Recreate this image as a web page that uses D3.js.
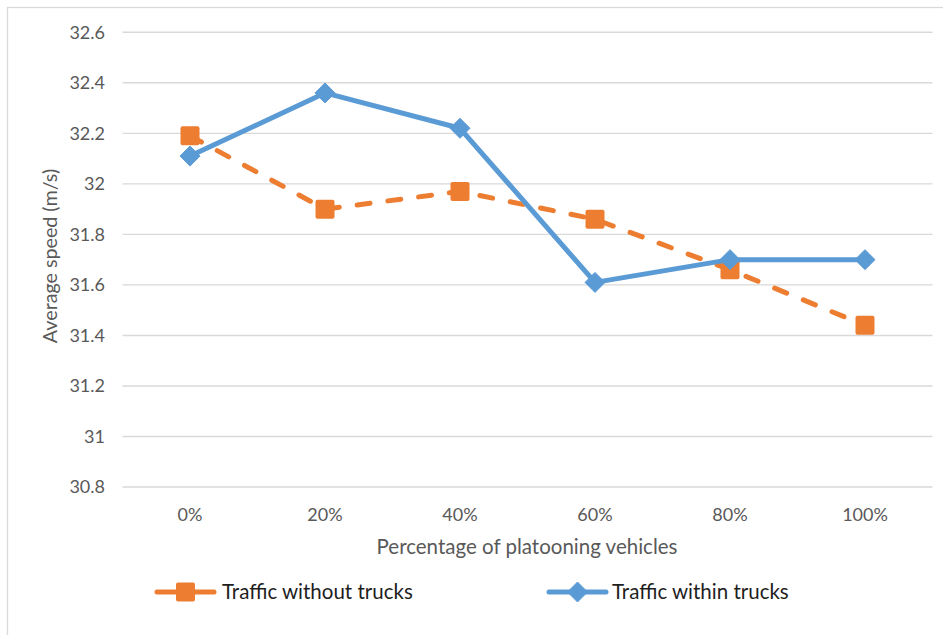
<!DOCTYPE html>
<html>
<head>
<meta charset="utf-8">
<script src="https://cdn.jsdelivr.net/npm/d3@7"></script>
<style>
  body { margin: 0; background: #fff; }
  text { font-family: Lato, "Open Sans", sans-serif; }
</style>
</head>
<body>
<div id="chart"></div>
<script>
// chart data
const categories = ["0%", "20%", "40%", "60%", "80%", "100%"];
const withoutTrucks = [32.19, 31.90, 31.97, 31.86, 31.66, 31.44];
const withinTrucks = [32.11, 32.36, 32.22, 31.61, 31.70, 31.70];
const yTicks = [30.8, 31, 31.2, 31.4, 31.6, 31.8, 32, 32.2, 32.4, 32.6];

const series = [
  {name: "Traffic without trucks", values: withoutTrucks, color: "#ED7D31", dash: "13,18", marker: "square"},
  {name: "Traffic within trucks", values: withinTrucks, color: "#5B9BD5", dash: null, marker: "diamond"}
];

const W = 943, H = 635;
const plot = {left: 122.5, right: 932.5, top: 32.3, bottom: 487};

const svg = d3.select("#chart").append("svg")
  .attr("width", W)
  .attr("height", H);

// outer chart border
svg.append("rect")
  .attr("x", 7.5).attr("y", 7.5)
  .attr("width", 1000).attr("height", 1000)
  .attr("fill", "none")
  .attr("stroke", "#d9d9d9")
  .attr("stroke-width", 1.3);

const x = d3.scalePoint()
  .domain(categories)
  .range([plot.left, plot.right])
  .padding(0.5);

const y = d3.scaleLinear()
  .domain([30.8, 32.6])
  .range([plot.bottom, plot.top]);

// gridlines
svg.append("g").selectAll("line")
  .data(yTicks)
  .enter().append("line")
  .attr("x1", plot.left).attr("x2", plot.right)
  .attr("y1", d => y(d)).attr("y2", d => y(d))
  .attr("stroke", "#d9d9d9")
  .attr("stroke-width", 1.4);

// y tick labels
svg.append("g").selectAll("text")
  .data(yTicks)
  .enter().append("text")
  .attr("x", 105)
  .attr("y", d => y(d))
  .attr("dy", "0.35em")
  .attr("text-anchor", "end")
  .attr("fill", "#595959")
  .style("font-size", "18px")
  .text(d => d3.format("")(+d.toFixed(1)));

// x tick labels
svg.append("g").selectAll("text")
  .data(categories)
  .enter().append("text")
  .attr("x", d => x(d))
  .attr("y", 515)
  .attr("dy", "0.35em")
  .attr("text-anchor", "middle")
  .attr("fill", "#595959")
  .style("font-size", "18px")
  .text(d => d);

// axis titles
svg.append("text")
  .attr("x", (plot.left + plot.right) / 2 - 0.5)
  .attr("y", 547)
  .attr("dy", "0.35em")
  .attr("text-anchor", "middle")
  .attr("fill", "#595959")
  .style("font-size", "20.5px")
  .text("Percentage of platooning vehicles");

svg.append("text")
  .attr("transform", "translate(50,256) rotate(-90)")
  .attr("dy", "0.35em")
  .attr("text-anchor", "middle")
  .attr("fill", "#595959")
  .style("font-size", "19.7px")
  .text("Average speed (m/s)");

const line = d3.line()
  .x((d, i) => x(categories[i]))
  .y(d => y(d));

function drawMarker(g, type, color) {
  if (type === "square") {
    g.append("rect")
      .attr("x", -9.5).attr("y", -9.5)
      .attr("width", 19).attr("height", 19)
      .attr("rx", 2)
      .attr("fill", color);
  } else {
    g.append("path")
      .attr("d", "M0,-10L10,0L0,10L-10,0Z")
      .attr("fill", color)
      .attr("stroke", color)
      .attr("stroke-width", 1)
      .attr("stroke-linejoin", "round");
  }
}

series.forEach(s => {
  svg.append("path")
    .datum(s.values)
    .attr("d", line)
    .attr("fill", "none")
    .attr("stroke", s.color)
    .attr("stroke-width", 5)
    .attr("stroke-linejoin", "round")
    .attr("stroke-linecap", "round")
    .attr("stroke-dasharray", s.dash);

  svg.append("g").selectAll("g")
    .data(s.values)
    .enter().append("g")
    .attr("transform", (d, i) => "translate(" + x(categories[i]) + "," + y(d) + ")")
    .each(function() { drawMarker(d3.select(this), s.marker, s.color); });
});

// legend
const legendX = [157, 549];
const legend = svg.append("g").selectAll("g")
  .data(series)
  .enter().append("g")
  .attr("transform", (d, i) => "translate(" + legendX[i] + ",592)");

legend.append("line")
  .attr("x1", 0).attr("x2", 57)
  .attr("stroke", d => d.color)
  .attr("stroke-width", 5)
  .attr("stroke-linecap", "round");

legend.each(function(d) {
  const g = d3.select(this).append("g").attr("transform", "translate(28.5,0)");
  drawMarker(g, d.marker, d.color);
});

legend.append("text")
  .attr("x", (d, i) => i === 0 ? 65 : 63)
  .attr("dy", "0.35em")
  .attr("fill", "#1e1e1e")
  .style("font-size", "20.5px")
  .text(d => d.name);
</script>
</body>
</html>
